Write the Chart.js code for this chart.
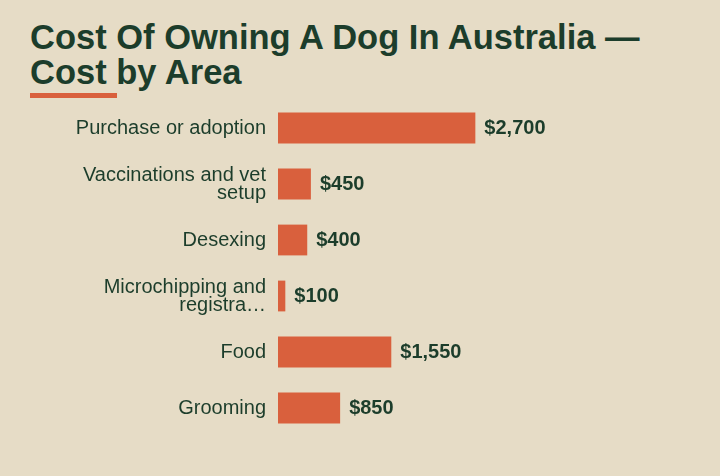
<!DOCTYPE html>
<html>
<head>
<meta charset="utf-8">
<script src="https://cdn.jsdelivr.net/npm/chart.js@4"></script>
<style>
  html, body { margin: 0; padding: 0; background: #e6dcc6; }
  #wrap { position: relative; width: 720px; height: 476px; overflow: hidden; }
  h1 {
    position: absolute; left: 30px; top: 20px; margin: 0;
    font-family: "Liberation Sans", Arial, sans-serif; font-weight: bold;
    font-size: 34.5px; line-height: 35px; color: #1c3d2b;
  }
  #rule { position: absolute; left: 30px; top: 93px; width: 87px; height: 5px; background: #d9603d; }
  #chartBox { position: absolute; left: 0; top: 0; width: 720px; height: 476px; }
</style>
</head>
<body>
<div id="wrap">
  <h1>Cost Of Owning A Dog In Australia —<br>Cost by Area</h1>
  <div id="rule"></div>
  <div id="chartBox"><canvas id="myChart"></canvas></div>
</div>
<script>
const categories = ['Purchase or adoption', 'Vaccinations and vet setup', 'Desexing', 'Microchipping and registration', 'Food', 'Grooming'];
const tickLabels = [['Purchase or adoption'], ['Vaccinations and vet', 'setup'], ['Desexing'], ['Microchipping and', 'registra…'], ['Food'], ['Grooming']];
const costs = [2700, 450, 400, 100, 1550, 850];

const textColor = '#1c3d2b';
const barColor = '#d9603d';

// value labels at the end of each bar
const valueLabels = {
    id: 'valueLabels',
    afterDatasetsDraw(chart) {
        const ctx = chart.ctx;
        const meta = chart.getDatasetMeta(0);
        ctx.save();
        ctx.font = 'bold 20px "Liberation Sans", Arial, sans-serif';
        ctx.fillStyle = textColor;
        ctx.textAlign = 'left';
        ctx.textBaseline = 'middle';
        meta.data.forEach((bar, i) => {
            ctx.fillText('$' + costs[i].toLocaleString('en-US'), bar.x + 9, bar.y);
        });
        ctx.restore();
    }
};

const ctx = document.getElementById('myChart').getContext('2d');

const myChart = new Chart(ctx, {
    type: 'bar',
    data: {
        labels: tickLabels,
        datasets: [{
            label: 'Cost',
            data: costs,
            backgroundColor: barColor,
            borderWidth: 0,
            categoryPercentage: 1,
            barPercentage: 0.55
        }]
    },
    options: {
        indexAxis: 'y',
        responsive: true,
        maintainAspectRatio: false,
        animation: false,
        layout: { padding: { top: 100, bottom: 40, left: 0, right: 40 } },
        plugins: {
            legend: { display: false },
            tooltip: { enabled: false }
        },
        scales: {
            x: {
                display: false,
                min: 0,
                max: 5500
            },
            y: {
                afterFit(scale) { scale.width = 278; },
                border: { display: false },
                grid: { display: false, drawTicks: false },
                ticks: {
                    padding: 12,
                    color: textColor,
                    font: { family: '"Liberation Sans", Arial, sans-serif', size: 20, lineHeight: 0.9 }
                }
            }
        }
    },
    plugins: [valueLabels]
});
</script>
</body>
</html>
